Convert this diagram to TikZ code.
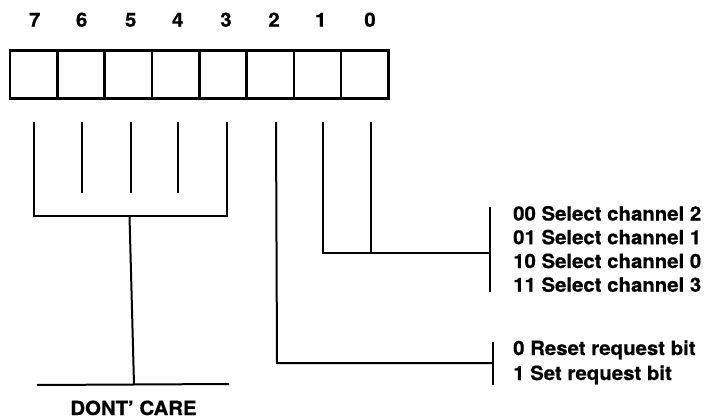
\documentclass[tikz,border=0pt]{standalone}
\usepackage{fontspec}
\setmainfont{TeX Gyre Heros}[FakeStretch=1.045, BoldFeatures={FakeBold=0.7}]
\begin{document}
\begin{tikzpicture}[x=1pt,y=-1pt,
  wire/.style={line width=2pt, line cap=butt, line join=miter},
  txt/.style={font=\fontsize{19.5}{23}\selectfont\bfseries, inner sep=0pt},
  lbl/.style={txt, anchor=base west},
  bitlbl/.style={txt, anchor=base},
  cell/.style={draw, line width=2.6pt, minimum width=47.3pt, minimum height=47.6pt, inner sep=0pt}]
\useasboundingbox (0,0) rectangle (712,420);

% register cells and bit numbers
\foreach \b in {0,...,7} {
  \node[cell] (c\b) at ({10+47.3*(7-\b)+23.65},74.5) {};
}
\foreach \b/\x in {7/34.7,6/81.7,5/130.7,4/177.7,3/226,2/274,1/320.7,0/370} {
  \node[bitlbl] (n\b) at (\x,26.7) {\b};
}

% line tops under the cells
\foreach \b/\x in {7/34.3,6/82.3,5/131,4/178.3,3/226.5,2/276,1/323,0/370.5} {
  \coordinate (t\b) at (\x,122);
}

% bits 7..3 : don't care
\coordinate (e6) at (82.3,193.3);
\coordinate (e5) at (131,193.3);
\coordinate (e4) at (178.3,193.3);
\draw[wire] (t6) -- (e6);
\draw[wire] (t5) -- (e5);
\draw[wire] (t4) -- (e4);
\coordinate (k7) at (34.3,216);
\coordinate (k3) at (226.5,216);
\draw[wire] (t7) -- (k7) -- (k3) -- (t3);
\coordinate (jt) at (129.5,216);
\coordinate (jb) at (134,384.5);
\draw[wire] (jt) -- (jb);
\coordinate (gl) at (37,385);
\coordinate (gr) at (229,384);
\draw[wire] (gl) -- (gr);
\node[bitlbl] (dc) at (133.5,415) {DONT’ CARE};

% bit 2 : request bit
\coordinate (k2) at (277,363);
\coordinate (r2) at (493,363);
\draw[wire] (t2) -- (k2) -- (r2);
\coordinate (rbt) at (493,342);
\coordinate (rbb) at (493,385);
\draw[wire] (rbt) -- (rbb);
\node[lbl] (rq0) at (513,355) {0 Reset request bit};
\node[lbl] (rq1) at (513,380) {1 Set request bit};

% bits 1,0 : channel select
\coordinate (k1) at (323,253);
\coordinate (k0) at (370.5,253);
\coordinate (r1) at (490,253);
\draw[wire] (t1) -- (k1) -- (r1);
\draw[wire] (t0) -- (k0);
\coordinate (sbt) at (490,207);
\coordinate (sbb) at (490,292);
\draw[wire] (sbt) -- (sbb);
\node[lbl] (s0) at (513,220.5) {00 Select channel 2};
\node[lbl] (s1) at (513,244.2) {01 Select channel 1};
\node[lbl] (s2) at (513,268) {10 Select channel 0};
\node[lbl] (s3) at (513,291.7) {11 Select channel 3};
\end{tikzpicture}
\end{document}
